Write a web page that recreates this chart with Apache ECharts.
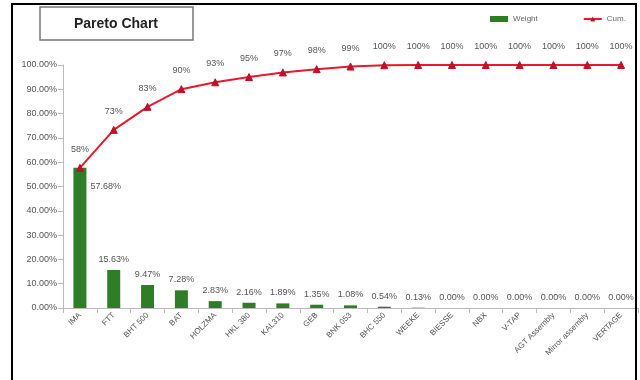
<!DOCTYPE html>
<html><head><meta charset="utf-8">
<script src="https://cdn.jsdelivr.net/npm/echarts@6/dist/echarts.min.js"></script>
<style>html,body{margin:0;padding:0;background:#fff}#c{width:640px;height:380px}</style>
</head><body><div id="c"></div>
<script>
var categories = ['IMA','FTT','BHT 500','BAT','HOLZMA','HKL 380','KAL310','GEB','BNK 053','BHC 550','WEEKE','BIESSE','NBX','V-TAP','AGT Assembly','Mirror assembly','VERTAGE'];
var weight = [57.68,15.63,9.47,7.28,2.83,2.16,1.89,1.35,1.08,0.54,0.13,0,0,0,0,0,0];
var cum = [57.68,73.31,82.78,90.06,92.89,95.05,96.94,98.29,99.37,99.91,100,100,100,100,100,100,100];
var yTicks = [0,10,20,30,40,50,60,70,80,90,100];

var FONT = 'Liberation Sans';
var chart = echarts.init(document.getElementById('c'));
var barData = weight.map(function(v,i){
  if(i===0){return {value:v,label:{position:[17,14],align:'left',verticalAlign:'top'}};}
  return v;
});
chart.setOption({
  animation:false,
  backgroundColor:'#fff',
  textStyle:{fontFamily:FONT},
  graphic:[
    {type:'rect',shape:{x:12,y:4,width:624,height:400},style:{fill:'none',stroke:'#000',lineWidth:2},z:100},
    {type:'rect',shape:{x:40,y:7,width:153,height:33},style:{fill:'#fff',stroke:'#777',lineWidth:1.5},z:100},
    {type:'text',x:116,y:24,style:{text:'Pareto Chart',font:'bold 14px "Liberation Sans"',fill:'#222',textAlign:'center',textVerticalAlign:'middle'},z:101}
  ],
  legend:{
    left:485,top:10,itemGap:45,itemWidth:18,itemHeight:6,
    textStyle:{fontSize:8,color:'#666',fontFamily:FONT},
    data:[{name:'Weight',icon:'rect'},{name:'Cum.'}]
  },
  grid:{left:63,width:575,top:65,bottom:72},
  xAxis:{
    type:'category',data:categories,
    axisLine:{lineStyle:{color:'#bbb'}},
    axisTick:{show:true,lineStyle:{color:'#bbb'}},
    axisLabel:{rotate:45,interval:0,fontSize:8,color:'#555',fontFamily:FONT,margin:6}
  },
  yAxis:{
    type:'value',min:0,max:100,interval:10,
    splitLine:{show:false},
    axisLine:{show:true,lineStyle:{color:'#bbb'}},
    axisTick:{show:true,lineStyle:{color:'#bbb'}},
    axisLabel:{fontSize:9,color:'#555',fontFamily:FONT,margin:6,formatter:function(v){return v.toFixed(2)+'%';}}
  },
  series:[
    {name:'Weight',type:'bar',data:barData,barWidth:13,
     itemStyle:{color:'#2f7d27'},
     label:{show:true,position:'top',distance:6,fontSize:9,color:'#555',fontFamily:FONT,
       formatter:function(p){return p.value.toFixed(2)+'%';}}},
    {name:'Cum.',type:'line',data:cum,
     symbol:'triangle',symbolSize:7,
     lineStyle:{color:'#e8192c',width:2},
     itemStyle:{color:'#c0102a',borderColor:'#c0102a'},
     label:{show:true,position:'top',distance:10,fontSize:9,color:'#555',fontFamily:FONT,
       formatter:function(p){return Math.round(p.value)+'%';}}}
  ]
});
</script></body></html>
